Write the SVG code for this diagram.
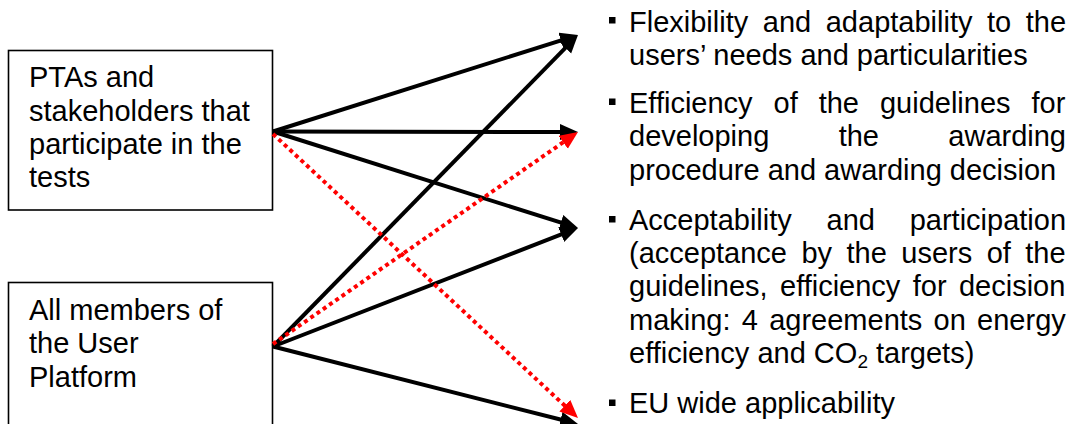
<svg xmlns="http://www.w3.org/2000/svg" width="1074" height="424" viewBox="0 0 1074 424">
  <defs>
    <style>
      .box { fill: #ffffff; stroke: #000000; stroke-width: 1.6; }
      .txt { font-family: "Liberation Sans", Arial, sans-serif; font-size: 29px; fill: #000000; }
      .link { stroke: #000000; stroke-width: 4; fill: none; }
      .dotted { stroke: #ff0000; stroke-width: 4; stroke-dasharray: 4 3.6; fill: none; }
      .bullet { fill: #000000; }
    </style>
    <marker id="head-black" markerUnits="userSpaceOnUse" markerWidth="19" markerHeight="17" refX="7" refY="8" orient="auto">
      <path d="M0,0 L18,8 L0,16 Z" fill="#000000"/>
    </marker>
    <marker id="head-red" markerUnits="userSpaceOnUse" markerWidth="19" markerHeight="17" refX="7" refY="8" orient="auto">
      <path d="M0,0 L18,8 L0,16 Z" fill="#ff0000"/>
    </marker>
  </defs>

  <rect width="1074" height="424" fill="#ffffff"/>

  <!-- source boxes -->
  <g id="node-ptas">
    <rect class="box" x="8.5" y="50.5" width="264" height="159.5"/>
    <text class="txt">
      <tspan x="29" y="87.3">PTAs and</tspan>
      <tspan x="29" y="120.6">stakeholders that</tspan>
      <tspan x="29" y="153.9">participate in the</tspan>
      <tspan x="29" y="187.2">tests</tspan>
    </text>
  </g>

  <g id="node-platform">
    <rect class="box" x="8.5" y="282.5" width="264" height="170"/>
    <text class="txt">
      <tspan x="29" y="320">All members of</tspan>
      <tspan x="29" y="353.3">the User</tspan>
      <tspan x="29" y="386.6">Platform</tspan>
    </text>
  </g>

  <!-- connectors: line ends sit 11px short of each arrow tip -->
  <g id="connectors">
    <line class="link" x1="273" y1="131.5" x2="567.51" y2="38.32" marker-end="url(#head-black)"/>
    <line class="link" x1="273" y1="131.5" x2="567" y2="132" marker-end="url(#head-black)"/>
    <line class="link" x1="273" y1="131.5" x2="567.51" y2="224.68" marker-end="url(#head-black)"/>
    <line class="link" x1="273" y1="346.5" x2="570.3" y2="42.86" marker-end="url(#head-black)"/>
    <line class="link" x1="273" y1="346.5" x2="567.75" y2="231.98" marker-end="url(#head-black)"/>
    <line class="link" x1="273" y1="346.5" x2="567.34" y2="421.29" marker-end="url(#head-black)"/>
    <line class="dotted" x1="273" y1="134" x2="569.95" y2="410.5" marker-end="url(#head-red)"/>
    <line class="dotted" x1="273" y1="344" x2="568.97" y2="138.28" marker-end="url(#head-red)"/>
  </g>

  <!-- criteria list -->
  <g id="node-flexibility">
    <rect class="bullet" x="609" y="17" width="6.5" height="6.5"/>
    <text class="txt">
      <tspan x="629" y="31.5" word-spacing="6.5">Flexibility and adaptability to the</tspan>
      <tspan x="629" y="64.8">users’ needs and particularities</tspan>
    </text>
  </g>

  <g id="node-efficiency">
    <rect class="bullet" x="609" y="98.5" width="6.5" height="6.5"/>
    <text class="txt">
      <tspan x="629" y="113" word-spacing="12.9">Efficiency of the guidelines for</tspan>
      <tspan x="629" y="146.3" word-spacing="61.3">developing the awarding</tspan>
      <tspan x="629" y="179.6">procedure and awarding decision</tspan>
    </text>
  </g>

  <g id="node-acceptability">
    <rect class="bullet" x="609" y="216" width="6.5" height="6.5"/>
    <text class="txt">
      <tspan x="629" y="230" word-spacing="26.7">Acceptability and participation</tspan>
      <tspan x="629" y="263.2" word-spacing="6.4">(acceptance by the users of the</tspan>
      <tspan x="629" y="296.4" word-spacing="4.3">guidelines, efficiency for decision</tspan>
      <tspan x="629" y="329.6" word-spacing="3.2">making: 4 agreements on energy</tspan>
      <tspan x="629" y="362.8">efficiency and CO<tspan font-size="19" dy="5">2</tspan><tspan dy="-5"> targets)</tspan></tspan>
    </text>
  </g>

  <g id="node-eu">
    <rect class="bullet" x="609" y="399.5" width="6.5" height="6.5"/>
    <text class="txt">
      <tspan x="629" y="413">EU wide applicability</tspan>
    </text>
  </g>
</svg>
